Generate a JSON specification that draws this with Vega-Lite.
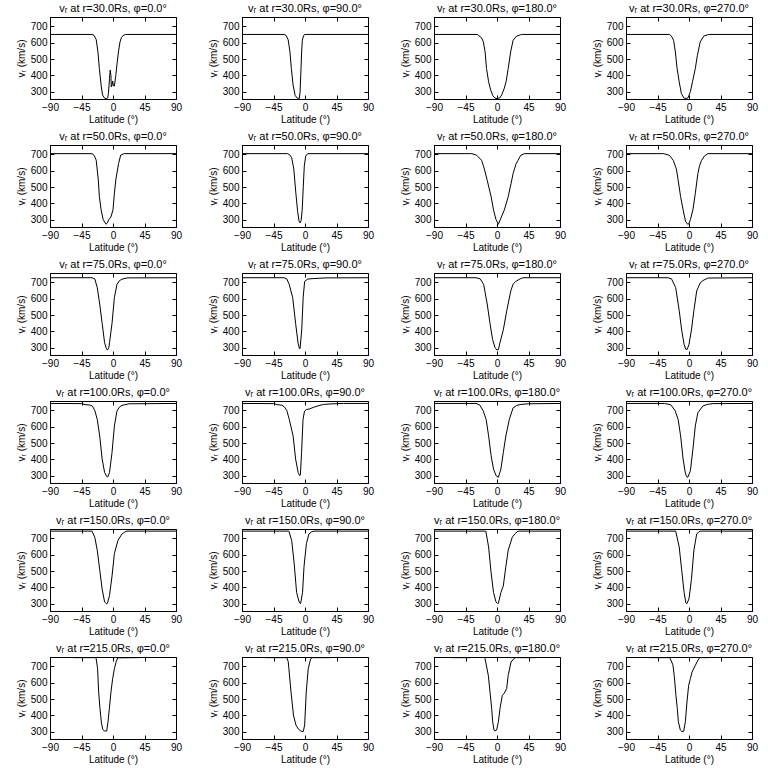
{
"$schema": "https://vega.github.io/schema/vega-lite/v6.json",
"padding": {"left": 15, "top": 2, "right": 2, "bottom": 2},
"data": {"values": [
{"k":"vᵣ at r=30.0Rs, φ=0.0°","x":-90,"v":651},{"k":"vᵣ at r=30.0Rs, φ=0.0°","x":-30,"v":651},{"k":"vᵣ at r=30.0Rs, φ=0.0°","x":-27,"v":645},{"k":"vᵣ at r=30.0Rs, φ=0.0°","x":-24,"v":620},{"k":"vᵣ at r=30.0Rs, φ=0.0°","x":-21.5,"v":544},{"k":"vᵣ at r=30.0Rs, φ=0.0°","x":-19.5,"v":442},{"k":"vᵣ at r=30.0Rs, φ=0.0°","x":-17,"v":340},{"k":"vᵣ at r=30.0Rs, φ=0.0°","x":-15,"v":280},{"k":"vᵣ at r=30.0Rs, φ=0.0°","x":-12,"v":260},{"k":"vᵣ at r=30.0Rs, φ=0.0°","x":-9,"v":258},{"k":"vᵣ at r=30.0Rs, φ=0.0°","x":-7.5,"v":262},{"k":"vᵣ at r=30.0Rs, φ=0.0°","x":-6.5,"v":290},{"k":"vᵣ at r=30.0Rs, φ=0.0°","x":-5,"v":380},{"k":"vᵣ at r=30.0Rs, φ=0.0°","x":-4,"v":432},{"k":"vᵣ at r=30.0Rs, φ=0.0°","x":-3,"v":400},{"k":"vᵣ at r=30.0Rs, φ=0.0°","x":-2.5,"v":330},{"k":"vᵣ at r=30.0Rs, φ=0.0°","x":-1.5,"v":340},{"k":"vᵣ at r=30.0Rs, φ=0.0°","x":-0.5,"v":365},{"k":"vᵣ at r=30.0Rs, φ=0.0°","x":0.5,"v":335},{"k":"vᵣ at r=30.0Rs, φ=0.0°","x":2,"v":335},{"k":"vᵣ at r=30.0Rs, φ=0.0°","x":4,"v":400},{"k":"vᵣ at r=30.0Rs, φ=0.0°","x":6,"v":480},{"k":"vᵣ at r=30.0Rs, φ=0.0°","x":8,"v":550},{"k":"vᵣ at r=30.0Rs, φ=0.0°","x":10,"v":605},{"k":"vᵣ at r=30.0Rs, φ=0.0°","x":12,"v":632},{"k":"vᵣ at r=30.0Rs, φ=0.0°","x":15,"v":647},{"k":"vᵣ at r=30.0Rs, φ=0.0°","x":18,"v":651},{"k":"vᵣ at r=30.0Rs, φ=0.0°","x":90,"v":651},
{"k":"vᵣ at r=30.0Rs, φ=90.0°","x":-90,"v":651},{"k":"vᵣ at r=30.0Rs, φ=90.0°","x":-30,"v":651},{"k":"vᵣ at r=30.0Rs, φ=90.0°","x":-27,"v":645},{"k":"vᵣ at r=30.0Rs, φ=90.0°","x":-24,"v":618},{"k":"vᵣ at r=30.0Rs, φ=90.0°","x":-21.5,"v":544},{"k":"vᵣ at r=30.0Rs, φ=90.0°","x":-19.5,"v":442},{"k":"vᵣ at r=30.0Rs, φ=90.0°","x":-17,"v":340},{"k":"vᵣ at r=30.0Rs, φ=90.0°","x":-14,"v":276},{"k":"vᵣ at r=30.0Rs, φ=90.0°","x":-11,"v":260},{"k":"vᵣ at r=30.0Rs, φ=90.0°","x":-8,"v":259},{"k":"vᵣ at r=30.0Rs, φ=90.0°","x":-7,"v":300},{"k":"vᵣ at r=30.0Rs, φ=90.0°","x":-5.7,"v":442},{"k":"vᵣ at r=30.0Rs, φ=90.0°","x":-4.8,"v":544},{"k":"vᵣ at r=30.0Rs, φ=90.0°","x":-3.8,"v":615},{"k":"vᵣ at r=30.0Rs, φ=90.0°","x":-2,"v":645},{"k":"vᵣ at r=30.0Rs, φ=90.0°","x":0,"v":651},{"k":"vᵣ at r=30.0Rs, φ=90.0°","x":90,"v":651},
{"k":"vᵣ at r=30.0Rs, φ=180.0°","x":-90,"v":651},{"k":"vᵣ at r=30.0Rs, φ=180.0°","x":-28,"v":651},{"k":"vᵣ at r=30.0Rs, φ=180.0°","x":-22,"v":630},{"k":"vᵣ at r=30.0Rs, φ=180.0°","x":-19.5,"v":605},{"k":"vᵣ at r=30.0Rs, φ=180.0°","x":-17,"v":544},{"k":"vᵣ at r=30.0Rs, φ=180.0°","x":-15,"v":442},{"k":"vᵣ at r=30.0Rs, φ=180.0°","x":-12,"v":361},{"k":"vᵣ at r=30.0Rs, φ=180.0°","x":-9,"v":310},{"k":"vᵣ at r=30.0Rs, φ=180.0°","x":-6,"v":276},{"k":"vᵣ at r=30.0Rs, φ=180.0°","x":-3,"v":260},{"k":"vᵣ at r=30.0Rs, φ=180.0°","x":0,"v":258},{"k":"vᵣ at r=30.0Rs, φ=180.0°","x":4,"v":262},{"k":"vᵣ at r=30.0Rs, φ=180.0°","x":6.7,"v":280},{"k":"vᵣ at r=30.0Rs, φ=180.0°","x":10,"v":316},{"k":"vᵣ at r=30.0Rs, φ=180.0°","x":13,"v":361},{"k":"vᵣ at r=30.0Rs, φ=180.0°","x":16,"v":442},{"k":"vᵣ at r=30.0Rs, φ=180.0°","x":19.5,"v":544},{"k":"vᵣ at r=30.0Rs, φ=180.0°","x":23,"v":615},{"k":"vᵣ at r=30.0Rs, φ=180.0°","x":28,"v":641},{"k":"vᵣ at r=30.0Rs, φ=180.0°","x":35,"v":651},{"k":"vᵣ at r=30.0Rs, φ=180.0°","x":90,"v":651},
{"k":"vᵣ at r=30.0Rs, φ=270.0°","x":-90,"v":651},{"k":"vᵣ at r=30.0Rs, φ=270.0°","x":-28,"v":651},{"k":"vᵣ at r=30.0Rs, φ=270.0°","x":-25,"v":640},{"k":"vᵣ at r=30.0Rs, φ=270.0°","x":-22,"v":615},{"k":"vᵣ at r=30.0Rs, φ=270.0°","x":-19.5,"v":544},{"k":"vᵣ at r=30.0Rs, φ=270.0°","x":-17,"v":442},{"k":"vᵣ at r=30.0Rs, φ=270.0°","x":-14,"v":361},{"k":"vᵣ at r=30.0Rs, φ=270.0°","x":-11,"v":290},{"k":"vᵣ at r=30.0Rs, φ=270.0°","x":-7.6,"v":262},{"k":"vᵣ at r=30.0Rs, φ=270.0°","x":-4,"v":258},{"k":"vᵣ at r=30.0Rs, φ=270.0°","x":-1.4,"v":262},{"k":"vᵣ at r=30.0Rs, φ=270.0°","x":2,"v":300},{"k":"vᵣ at r=30.0Rs, φ=270.0°","x":5,"v":361},{"k":"vᵣ at r=30.0Rs, φ=270.0°","x":9,"v":442},{"k":"vᵣ at r=30.0Rs, φ=270.0°","x":12,"v":523},{"k":"vᵣ at r=30.0Rs, φ=270.0°","x":16,"v":605},{"k":"vᵣ at r=30.0Rs, φ=270.0°","x":21,"v":641},{"k":"vᵣ at r=30.0Rs, φ=270.0°","x":28,"v":651},{"k":"vᵣ at r=30.0Rs, φ=270.0°","x":90,"v":651},
{"k":"vᵣ at r=50.0Rs, φ=0.0°","x":-90,"v":705},{"k":"vᵣ at r=50.0Rs, φ=0.0°","x":-30,"v":705},{"k":"vᵣ at r=50.0Rs, φ=0.0°","x":-27,"v":695},{"k":"vᵣ at r=50.0Rs, φ=0.0°","x":-24,"v":665},{"k":"vᵣ at r=50.0Rs, φ=0.0°","x":-21,"v":544},{"k":"vᵣ at r=50.0Rs, φ=0.0°","x":-19.5,"v":442},{"k":"vᵣ at r=50.0Rs, φ=0.0°","x":-17,"v":361},{"k":"vᵣ at r=50.0Rs, φ=0.0°","x":-14,"v":300},{"k":"vᵣ at r=50.0Rs, φ=0.0°","x":-10,"v":272},{"k":"vᵣ at r=50.0Rs, φ=0.0°","x":-8,"v":280},{"k":"vᵣ at r=50.0Rs, φ=0.0°","x":-6,"v":300},{"k":"vᵣ at r=50.0Rs, φ=0.0°","x":-3,"v":316},{"k":"vᵣ at r=50.0Rs, φ=0.0°","x":0,"v":361},{"k":"vᵣ at r=50.0Rs, φ=0.0°","x":2,"v":462},{"k":"vᵣ at r=50.0Rs, φ=0.0°","x":4,"v":544},{"k":"vᵣ at r=50.0Rs, φ=0.0°","x":8,"v":645},{"k":"vᵣ at r=50.0Rs, φ=0.0°","x":11,"v":696},{"k":"vᵣ at r=50.0Rs, φ=0.0°","x":16,"v":705},{"k":"vᵣ at r=50.0Rs, φ=0.0°","x":90,"v":705},
{"k":"vᵣ at r=50.0Rs, φ=90.0°","x":-90,"v":705},{"k":"vᵣ at r=50.0Rs, φ=90.0°","x":-25,"v":705},{"k":"vᵣ at r=50.0Rs, φ=90.0°","x":-22,"v":698},{"k":"vᵣ at r=50.0Rs, φ=90.0°","x":-19,"v":680},{"k":"vᵣ at r=50.0Rs, φ=90.0°","x":-16,"v":610},{"k":"vᵣ at r=50.0Rs, φ=90.0°","x":-13,"v":460},{"k":"vᵣ at r=50.0Rs, φ=90.0°","x":-10.5,"v":350},{"k":"vᵣ at r=50.0Rs, φ=90.0°","x":-8.5,"v":290},{"k":"vᵣ at r=50.0Rs, φ=90.0°","x":-7,"v":280},{"k":"vᵣ at r=50.0Rs, φ=90.0°","x":-5.5,"v":295},{"k":"vᵣ at r=50.0Rs, φ=90.0°","x":-4,"v":360},{"k":"vᵣ at r=50.0Rs, φ=90.0°","x":-2.5,"v":500},{"k":"vᵣ at r=50.0Rs, φ=90.0°","x":-1,"v":630},{"k":"vᵣ at r=50.0Rs, φ=90.0°","x":1,"v":690},{"k":"vᵣ at r=50.0Rs, φ=90.0°","x":4,"v":705},{"k":"vᵣ at r=50.0Rs, φ=90.0°","x":90,"v":705},
{"k":"vᵣ at r=50.0Rs, φ=180.0°","x":-90,"v":705},{"k":"vᵣ at r=50.0Rs, φ=180.0°","x":-36,"v":705},{"k":"vᵣ at r=50.0Rs, φ=180.0°","x":-29,"v":695},{"k":"vᵣ at r=50.0Rs, φ=180.0°","x":-22,"v":664},{"k":"vᵣ at r=50.0Rs, φ=180.0°","x":-18,"v":610},{"k":"vᵣ at r=50.0Rs, φ=180.0°","x":-14,"v":542},{"k":"vᵣ at r=50.0Rs, φ=180.0°","x":-8.4,"v":441},{"k":"vᵣ at r=50.0Rs, φ=180.0°","x":-5,"v":360},{"k":"vᵣ at r=50.0Rs, φ=180.0°","x":-1.4,"v":300},{"k":"vᵣ at r=50.0Rs, φ=180.0°","x":2,"v":272},{"k":"vᵣ at r=50.0Rs, φ=180.0°","x":5.6,"v":310},{"k":"vᵣ at r=50.0Rs, φ=180.0°","x":10.5,"v":360},{"k":"vᵣ at r=50.0Rs, φ=180.0°","x":16,"v":441},{"k":"vᵣ at r=50.0Rs, φ=180.0°","x":20,"v":520},{"k":"vᵣ at r=50.0Rs, φ=180.0°","x":23,"v":583},{"k":"vᵣ at r=50.0Rs, φ=180.0°","x":27,"v":640},{"k":"vᵣ at r=50.0Rs, φ=180.0°","x":30,"v":664},{"k":"vᵣ at r=50.0Rs, φ=180.0°","x":34,"v":695},{"k":"vᵣ at r=50.0Rs, φ=180.0°","x":39,"v":705},{"k":"vᵣ at r=50.0Rs, φ=180.0°","x":90,"v":705},
{"k":"vᵣ at r=50.0Rs, φ=270.0°","x":-90,"v":705},{"k":"vᵣ at r=50.0Rs, φ=270.0°","x":-36,"v":705},{"k":"vᵣ at r=50.0Rs, φ=270.0°","x":-28,"v":695},{"k":"vᵣ at r=50.0Rs, φ=270.0°","x":-22.5,"v":664},{"k":"vᵣ at r=50.0Rs, φ=270.0°","x":-18,"v":610},{"k":"vᵣ at r=50.0Rs, φ=270.0°","x":-15.5,"v":542},{"k":"vᵣ at r=50.0Rs, φ=270.0°","x":-12,"v":441},{"k":"vᵣ at r=50.0Rs, φ=270.0°","x":-8.4,"v":360},{"k":"vᵣ at r=50.0Rs, φ=270.0°","x":-5,"v":290},{"k":"vᵣ at r=50.0Rs, φ=270.0°","x":-2,"v":272},{"k":"vᵣ at r=50.0Rs, φ=270.0°","x":0,"v":275},{"k":"vᵣ at r=50.0Rs, φ=270.0°","x":2,"v":300},{"k":"vᵣ at r=50.0Rs, φ=270.0°","x":5.6,"v":360},{"k":"vᵣ at r=50.0Rs, φ=270.0°","x":9,"v":461},{"k":"vᵣ at r=50.0Rs, φ=270.0°","x":12.7,"v":583},{"k":"vᵣ at r=50.0Rs, φ=270.0°","x":15,"v":630},{"k":"vᵣ at r=50.0Rs, φ=270.0°","x":18,"v":664},{"k":"vᵣ at r=50.0Rs, φ=270.0°","x":22,"v":690},{"k":"vᵣ at r=50.0Rs, φ=270.0°","x":27,"v":705},{"k":"vᵣ at r=50.0Rs, φ=270.0°","x":90,"v":705},
{"k":"vᵣ at r=75.0Rs, φ=0.0°","x":-90,"v":729},{"k":"vᵣ at r=75.0Rs, φ=0.0°","x":-30,"v":729},{"k":"vᵣ at r=75.0Rs, φ=0.0°","x":-26,"v":722},{"k":"vᵣ at r=75.0Rs, φ=0.0°","x":-22.5,"v":668},{"k":"vᵣ at r=75.0Rs, φ=0.0°","x":-19,"v":568},{"k":"vᵣ at r=75.0Rs, φ=0.0°","x":-15.5,"v":449},{"k":"vᵣ at r=75.0Rs, φ=0.0°","x":-12,"v":330},{"k":"vᵣ at r=75.0Rs, φ=0.0°","x":-9.5,"v":295},{"k":"vᵣ at r=75.0Rs, φ=0.0°","x":-8,"v":285},{"k":"vᵣ at r=75.0Rs, φ=0.0°","x":-6,"v":300},{"k":"vᵣ at r=75.0Rs, φ=0.0°","x":-5,"v":330},{"k":"vᵣ at r=75.0Rs, φ=0.0°","x":-1.4,"v":449},{"k":"vᵣ at r=75.0Rs, φ=0.0°","x":2,"v":608},{"k":"vᵣ at r=75.0Rs, φ=0.0°","x":5.6,"v":687},{"k":"vᵣ at r=75.0Rs, φ=0.0°","x":9,"v":710},{"k":"vᵣ at r=75.0Rs, φ=0.0°","x":12.7,"v":720},{"k":"vᵣ at r=75.0Rs, φ=0.0°","x":20,"v":728},{"k":"vᵣ at r=75.0Rs, φ=0.0°","x":90,"v":729},
{"k":"vᵣ at r=75.0Rs, φ=90.0°","x":-90,"v":729},{"k":"vᵣ at r=75.0Rs, φ=90.0°","x":-30,"v":729},{"k":"vᵣ at r=75.0Rs, φ=90.0°","x":-26,"v":722},{"k":"vᵣ at r=75.0Rs, φ=90.0°","x":-22.5,"v":687},{"k":"vᵣ at r=75.0Rs, φ=90.0°","x":-17.6,"v":608},{"k":"vᵣ at r=75.0Rs, φ=90.0°","x":-13.4,"v":449},{"k":"vᵣ at r=75.0Rs, φ=90.0°","x":-10,"v":330},{"k":"vᵣ at r=75.0Rs, φ=90.0°","x":-8,"v":295},{"k":"vᵣ at r=75.0Rs, φ=90.0°","x":-7,"v":295},{"k":"vᵣ at r=75.0Rs, φ=90.0°","x":-4.7,"v":409},{"k":"vᵣ at r=75.0Rs, φ=90.0°","x":-2.6,"v":608},{"k":"vᵣ at r=75.0Rs, φ=90.0°","x":-0.5,"v":707},{"k":"vᵣ at r=75.0Rs, φ=90.0°","x":4,"v":721},{"k":"vᵣ at r=75.0Rs, φ=90.0°","x":12.7,"v":724},{"k":"vᵣ at r=75.0Rs, φ=90.0°","x":30,"v":728},{"k":"vᵣ at r=75.0Rs, φ=90.0°","x":90,"v":729},
{"k":"vᵣ at r=75.0Rs, φ=180.0°","x":-90,"v":729},{"k":"vᵣ at r=75.0Rs, φ=180.0°","x":-30,"v":729},{"k":"vᵣ at r=75.0Rs, φ=180.0°","x":-24,"v":722},{"k":"vᵣ at r=75.0Rs, φ=180.0°","x":-19,"v":687},{"k":"vᵣ at r=75.0Rs, φ=180.0°","x":-14,"v":568},{"k":"vᵣ at r=75.0Rs, φ=180.0°","x":-10,"v":449},{"k":"vᵣ at r=75.0Rs, φ=180.0°","x":-6.3,"v":350},{"k":"vᵣ at r=75.0Rs, φ=180.0°","x":-2.8,"v":300},{"k":"vᵣ at r=75.0Rs, φ=180.0°","x":0,"v":285},{"k":"vᵣ at r=75.0Rs, φ=180.0°","x":2,"v":288},{"k":"vᵣ at r=75.0Rs, φ=180.0°","x":4.2,"v":330},{"k":"vᵣ at r=75.0Rs, φ=180.0°","x":9,"v":409},{"k":"vᵣ at r=75.0Rs, φ=180.0°","x":14,"v":528},{"k":"vᵣ at r=75.0Rs, φ=180.0°","x":19.7,"v":648},{"k":"vᵣ at r=75.0Rs, φ=180.0°","x":23,"v":690},{"k":"vᵣ at r=75.0Rs, φ=180.0°","x":27,"v":707},{"k":"vᵣ at r=75.0Rs, φ=180.0°","x":33,"v":722},{"k":"vᵣ at r=75.0Rs, φ=180.0°","x":37,"v":729},{"k":"vᵣ at r=75.0Rs, φ=180.0°","x":90,"v":729},
{"k":"vᵣ at r=75.0Rs, φ=270.0°","x":-90,"v":729},{"k":"vᵣ at r=75.0Rs, φ=270.0°","x":-30,"v":729},{"k":"vᵣ at r=75.0Rs, φ=270.0°","x":-25,"v":722},{"k":"vᵣ at r=75.0Rs, φ=270.0°","x":-19,"v":668},{"k":"vᵣ at r=75.0Rs, φ=270.0°","x":-14,"v":528},{"k":"vᵣ at r=75.0Rs, φ=270.0°","x":-10.5,"v":409},{"k":"vᵣ at r=75.0Rs, φ=270.0°","x":-7,"v":320},{"k":"vᵣ at r=75.0Rs, φ=270.0°","x":-4.5,"v":290},{"k":"vᵣ at r=75.0Rs, φ=270.0°","x":-2.5,"v":290},{"k":"vᵣ at r=75.0Rs, φ=270.0°","x":0,"v":320},{"k":"vᵣ at r=75.0Rs, φ=270.0°","x":3.5,"v":409},{"k":"vᵣ at r=75.0Rs, φ=270.0°","x":7,"v":528},{"k":"vᵣ at r=75.0Rs, φ=270.0°","x":11,"v":648},{"k":"vᵣ at r=75.0Rs, φ=270.0°","x":16,"v":697},{"k":"vᵣ at r=75.0Rs, φ=270.0°","x":20,"v":712},{"k":"vᵣ at r=75.0Rs, φ=270.0°","x":27,"v":727},{"k":"vᵣ at r=75.0Rs, φ=270.0°","x":90,"v":729},
{"k":"vᵣ at r=100.0Rs, φ=0.0°","x":-90,"v":743},{"k":"vᵣ at r=100.0Rs, φ=0.0°","x":-45,"v":742},{"k":"vᵣ at r=100.0Rs, φ=0.0°","x":-40,"v":736},{"k":"vᵣ at r=100.0Rs, φ=0.0°","x":-33,"v":733},{"k":"vᵣ at r=100.0Rs, φ=0.0°","x":-29.5,"v":727},{"k":"vᵣ at r=100.0Rs, φ=0.0°","x":-26,"v":700},{"k":"vᵣ at r=100.0Rs, φ=0.0°","x":-22.5,"v":645},{"k":"vᵣ at r=100.0Rs, φ=0.0°","x":-19,"v":544},{"k":"vᵣ at r=100.0Rs, φ=0.0°","x":-15.5,"v":402},{"k":"vᵣ at r=100.0Rs, φ=0.0°","x":-12,"v":320},{"k":"vᵣ at r=100.0Rs, φ=0.0°","x":-9,"v":295},{"k":"vᵣ at r=100.0Rs, φ=0.0°","x":-7.5,"v":292},{"k":"vᵣ at r=100.0Rs, φ=0.0°","x":-5,"v":320},{"k":"vᵣ at r=100.0Rs, φ=0.0°","x":-1.4,"v":442},{"k":"vᵣ at r=100.0Rs, φ=0.0°","x":2,"v":605},{"k":"vᵣ at r=100.0Rs, φ=0.0°","x":5.6,"v":696},{"k":"vᵣ at r=100.0Rs, φ=0.0°","x":9,"v":720},{"k":"vᵣ at r=100.0Rs, φ=0.0°","x":12.7,"v":731},{"k":"vᵣ at r=100.0Rs, φ=0.0°","x":23,"v":741},{"k":"vᵣ at r=100.0Rs, φ=0.0°","x":90,"v":743},
{"k":"vᵣ at r=100.0Rs, φ=90.0°","x":-90,"v":743},{"k":"vᵣ at r=100.0Rs, φ=90.0°","x":-45,"v":742},{"k":"vᵣ at r=100.0Rs, φ=90.0°","x":-40,"v":736},{"k":"vᵣ at r=100.0Rs, φ=90.0°","x":-33,"v":732},{"k":"vᵣ at r=100.0Rs, φ=90.0°","x":-29.5,"v":722},{"k":"vᵣ at r=100.0Rs, φ=90.0°","x":-26,"v":700},{"k":"vᵣ at r=100.0Rs, φ=90.0°","x":-22.5,"v":645},{"k":"vᵣ at r=100.0Rs, φ=90.0°","x":-17,"v":544},{"k":"vᵣ at r=100.0Rs, φ=90.0°","x":-13.4,"v":402},{"k":"vᵣ at r=100.0Rs, φ=90.0°","x":-9.8,"v":320},{"k":"vᵣ at r=100.0Rs, φ=90.0°","x":-7.5,"v":300},{"k":"vᵣ at r=100.0Rs, φ=90.0°","x":-6.5,"v":310},{"k":"vᵣ at r=100.0Rs, φ=90.0°","x":-4.9,"v":442},{"k":"vᵣ at r=100.0Rs, φ=90.0°","x":-2.8,"v":645},{"k":"vᵣ at r=100.0Rs, φ=90.0°","x":-0.7,"v":696},{"k":"vᵣ at r=100.0Rs, φ=90.0°","x":2,"v":706},{"k":"vᵣ at r=100.0Rs, φ=90.0°","x":5.6,"v":708},{"k":"vᵣ at r=100.0Rs, φ=90.0°","x":12.7,"v":720},{"k":"vᵣ at r=100.0Rs, φ=90.0°","x":20,"v":730},{"k":"vᵣ at r=100.0Rs, φ=90.0°","x":26.7,"v":737},{"k":"vᵣ at r=100.0Rs, φ=90.0°","x":40,"v":741},{"k":"vᵣ at r=100.0Rs, φ=90.0°","x":55,"v":743},{"k":"vᵣ at r=100.0Rs, φ=90.0°","x":90,"v":743},
{"k":"vᵣ at r=100.0Rs, φ=180.0°","x":-90,"v":743},{"k":"vᵣ at r=100.0Rs, φ=180.0°","x":-30,"v":743},{"k":"vᵣ at r=100.0Rs, φ=180.0°","x":-25,"v":735},{"k":"vᵣ at r=100.0Rs, φ=180.0°","x":-20,"v":700},{"k":"vᵣ at r=100.0Rs, φ=180.0°","x":-15.5,"v":645},{"k":"vᵣ at r=100.0Rs, φ=180.0°","x":-12,"v":544},{"k":"vᵣ at r=100.0Rs, φ=180.0°","x":-8.4,"v":422},{"k":"vᵣ at r=100.0Rs, φ=180.0°","x":-5,"v":341},{"k":"vᵣ at r=100.0Rs, φ=180.0°","x":-1.4,"v":300},{"k":"vᵣ at r=100.0Rs, φ=180.0°","x":2,"v":290},{"k":"vᵣ at r=100.0Rs, φ=180.0°","x":5.6,"v":341},{"k":"vᵣ at r=100.0Rs, φ=180.0°","x":9,"v":442},{"k":"vᵣ at r=100.0Rs, φ=180.0°","x":12.7,"v":544},{"k":"vᵣ at r=100.0Rs, φ=180.0°","x":17.6,"v":645},{"k":"vᵣ at r=100.0Rs, φ=180.0°","x":23,"v":716},{"k":"vᵣ at r=100.0Rs, φ=180.0°","x":28,"v":731},{"k":"vᵣ at r=100.0Rs, φ=180.0°","x":34,"v":737},{"k":"vᵣ at r=100.0Rs, φ=180.0°","x":45,"v":741},{"k":"vᵣ at r=100.0Rs, φ=180.0°","x":90,"v":743},
{"k":"vᵣ at r=100.0Rs, φ=270.0°","x":-90,"v":743},{"k":"vᵣ at r=100.0Rs, φ=270.0°","x":-35,"v":743},{"k":"vᵣ at r=100.0Rs, φ=270.0°","x":-26,"v":735},{"k":"vᵣ at r=100.0Rs, φ=270.0°","x":-20,"v":700},{"k":"vᵣ at r=100.0Rs, φ=270.0°","x":-15.5,"v":645},{"k":"vᵣ at r=100.0Rs, φ=270.0°","x":-12,"v":544},{"k":"vᵣ at r=100.0Rs, φ=270.0°","x":-8.4,"v":402},{"k":"vᵣ at r=100.0Rs, φ=270.0°","x":-5,"v":310},{"k":"vᵣ at r=100.0Rs, φ=270.0°","x":-2.5,"v":290},{"k":"vᵣ at r=100.0Rs, φ=270.0°","x":-1.4,"v":292},{"k":"vᵣ at r=100.0Rs, φ=270.0°","x":2,"v":330},{"k":"vᵣ at r=100.0Rs, φ=270.0°","x":5.6,"v":462},{"k":"vᵣ at r=100.0Rs, φ=270.0°","x":9,"v":605},{"k":"vᵣ at r=100.0Rs, φ=270.0°","x":12.7,"v":686},{"k":"vᵣ at r=100.0Rs, φ=270.0°","x":19.7,"v":727},{"k":"vᵣ at r=100.0Rs, φ=270.0°","x":26,"v":737},{"k":"vᵣ at r=100.0Rs, φ=270.0°","x":34,"v":742},{"k":"vᵣ at r=100.0Rs, φ=270.0°","x":90,"v":743},
{"k":"vᵣ at r=150.0Rs, φ=0.0°","x":-90,"v":745},{"k":"vᵣ at r=150.0Rs, φ=0.0°","x":-30,"v":745},{"k":"vᵣ at r=150.0Rs, φ=0.0°","x":-26,"v":707},{"k":"vᵣ at r=150.0Rs, φ=0.0°","x":-22.5,"v":628},{"k":"vᵣ at r=150.0Rs, φ=0.0°","x":-19,"v":509},{"k":"vᵣ at r=150.0Rs, φ=0.0°","x":-15.5,"v":389},{"k":"vᵣ at r=150.0Rs, φ=0.0°","x":-12,"v":310},{"k":"vᵣ at r=150.0Rs, φ=0.0°","x":-9.5,"v":300},{"k":"vᵣ at r=150.0Rs, φ=0.0°","x":-8,"v":302},{"k":"vᵣ at r=150.0Rs, φ=0.0°","x":-5,"v":350},{"k":"vᵣ at r=150.0Rs, φ=0.0°","x":-1.4,"v":469},{"k":"vᵣ at r=150.0Rs, φ=0.0°","x":2,"v":608},{"k":"vᵣ at r=150.0Rs, φ=0.0°","x":7,"v":687},{"k":"vᵣ at r=150.0Rs, φ=0.0°","x":12.7,"v":727},{"k":"vᵣ at r=150.0Rs, φ=0.0°","x":17,"v":740},{"k":"vᵣ at r=150.0Rs, φ=0.0°","x":20,"v":745},{"k":"vᵣ at r=150.0Rs, φ=0.0°","x":90,"v":745},
{"k":"vᵣ at r=150.0Rs, φ=90.0°","x":-90,"v":745},{"k":"vᵣ at r=150.0Rs, φ=90.0°","x":-23,"v":745},{"k":"vᵣ at r=150.0Rs, φ=90.0°","x":-19,"v":687},{"k":"vᵣ at r=150.0Rs, φ=90.0°","x":-15.5,"v":548},{"k":"vᵣ at r=150.0Rs, φ=90.0°","x":-12,"v":369},{"k":"vᵣ at r=150.0Rs, φ=90.0°","x":-8.4,"v":310},{"k":"vᵣ at r=150.0Rs, φ=90.0°","x":-6.3,"v":300},{"k":"vᵣ at r=150.0Rs, φ=90.0°","x":-3.5,"v":369},{"k":"vᵣ at r=150.0Rs, φ=90.0°","x":-1.4,"v":528},{"k":"vᵣ at r=150.0Rs, φ=90.0°","x":2,"v":668},{"k":"vᵣ at r=150.0Rs, φ=90.0°","x":5.6,"v":727},{"k":"vᵣ at r=150.0Rs, φ=90.0°","x":9,"v":740},{"k":"vᵣ at r=150.0Rs, φ=90.0°","x":12.7,"v":745},{"k":"vᵣ at r=150.0Rs, φ=90.0°","x":90,"v":745},
{"k":"vᵣ at r=150.0Rs, φ=180.0°","x":-90,"v":745},{"k":"vᵣ at r=150.0Rs, φ=180.0°","x":-16,"v":745},{"k":"vᵣ at r=150.0Rs, φ=180.0°","x":-12,"v":648},{"k":"vᵣ at r=150.0Rs, φ=180.0°","x":-8.4,"v":489},{"k":"vᵣ at r=150.0Rs, φ=180.0°","x":-5,"v":369},{"k":"vᵣ at r=150.0Rs, φ=180.0°","x":-1.4,"v":310},{"k":"vᵣ at r=150.0Rs, φ=180.0°","x":1,"v":300},{"k":"vᵣ at r=150.0Rs, φ=180.0°","x":2,"v":302},{"k":"vᵣ at r=150.0Rs, φ=180.0°","x":5.6,"v":369},{"k":"vᵣ at r=150.0Rs, φ=180.0°","x":9,"v":409},{"k":"vᵣ at r=150.0Rs, φ=180.0°","x":12.7,"v":528},{"k":"vᵣ at r=150.0Rs, φ=180.0°","x":16,"v":628},{"k":"vᵣ at r=150.0Rs, φ=180.0°","x":21.8,"v":707},{"k":"vᵣ at r=150.0Rs, φ=180.0°","x":26,"v":730},{"k":"vᵣ at r=150.0Rs, φ=180.0°","x":30,"v":745},{"k":"vᵣ at r=150.0Rs, φ=180.0°","x":90,"v":745},
{"k":"vᵣ at r=150.0Rs, φ=270.0°","x":-90,"v":745},{"k":"vᵣ at r=150.0Rs, φ=270.0°","x":-19,"v":745},{"k":"vᵣ at r=150.0Rs, φ=270.0°","x":-14,"v":648},{"k":"vᵣ at r=150.0Rs, φ=270.0°","x":-10.5,"v":509},{"k":"vᵣ at r=150.0Rs, φ=270.0°","x":-7,"v":369},{"k":"vᵣ at r=150.0Rs, φ=270.0°","x":-4.5,"v":305},{"k":"vᵣ at r=150.0Rs, φ=270.0°","x":-3,"v":300},{"k":"vᵣ at r=150.0Rs, φ=270.0°","x":0,"v":330},{"k":"vᵣ at r=150.0Rs, φ=270.0°","x":3.5,"v":449},{"k":"vᵣ at r=150.0Rs, φ=270.0°","x":7,"v":628},{"k":"vᵣ at r=150.0Rs, φ=270.0°","x":11,"v":727},{"k":"vᵣ at r=150.0Rs, φ=270.0°","x":14,"v":740},{"k":"vᵣ at r=150.0Rs, φ=270.0°","x":16,"v":745},{"k":"vᵣ at r=150.0Rs, φ=270.0°","x":90,"v":745},
{"k":"vᵣ at r=215.0Rs, φ=0.0°","x":-90,"v":765},{"k":"vᵣ at r=215.0Rs, φ=0.0°","x":-57,"v":765},{"k":"vᵣ at r=215.0Rs, φ=0.0°","x":-56.7,"v":754},{"k":"vᵣ at r=215.0Rs, φ=0.0°","x":-25,"v":754},{"k":"vᵣ at r=215.0Rs, φ=0.0°","x":-24,"v":747},{"k":"vᵣ at r=215.0Rs, φ=0.0°","x":-22,"v":686},{"k":"vᵣ at r=215.0Rs, φ=0.0°","x":-20.5,"v":544},{"k":"vᵣ at r=215.0Rs, φ=0.0°","x":-18.6,"v":442},{"k":"vᵣ at r=215.0Rs, φ=0.0°","x":-16.7,"v":361},{"k":"vᵣ at r=215.0Rs, φ=0.0°","x":-14.8,"v":316},{"k":"vᵣ at r=215.0Rs, φ=0.0°","x":-12.4,"v":304},{"k":"vᵣ at r=215.0Rs, φ=0.0°","x":-9,"v":304},{"k":"vᵣ at r=215.0Rs, φ=0.0°","x":-7.1,"v":361},{"k":"vᵣ at r=215.0Rs, φ=0.0°","x":-5.2,"v":442},{"k":"vᵣ at r=215.0Rs, φ=0.0°","x":-2.9,"v":544},{"k":"vᵣ at r=215.0Rs, φ=0.0°","x":-0.5,"v":625},{"k":"vᵣ at r=215.0Rs, φ=0.0°","x":2,"v":686},{"k":"vᵣ at r=215.0Rs, φ=0.0°","x":4.3,"v":726},{"k":"vᵣ at r=215.0Rs, φ=0.0°","x":6.7,"v":753},{"k":"vᵣ at r=215.0Rs, φ=0.0°","x":37.6,"v":754},{"k":"vᵣ at r=215.0Rs, φ=0.0°","x":38,"v":765},{"k":"vᵣ at r=215.0Rs, φ=0.0°","x":90,"v":765},
{"k":"vᵣ at r=215.0Rs, φ=90.0°","x":-90,"v":765},{"k":"vᵣ at r=215.0Rs, φ=90.0°","x":-57,"v":765},{"k":"vᵣ at r=215.0Rs, φ=90.0°","x":-56.5,"v":754},{"k":"vᵣ at r=215.0Rs, φ=90.0°","x":-26,"v":754},{"k":"vᵣ at r=215.0Rs, φ=90.0°","x":-24,"v":730},{"k":"vᵣ at r=215.0Rs, φ=90.0°","x":-23,"v":686},{"k":"vᵣ at r=215.0Rs, φ=90.0°","x":-20,"v":544},{"k":"vᵣ at r=215.0Rs, φ=90.0°","x":-16.5,"v":402},{"k":"vᵣ at r=215.0Rs, φ=90.0°","x":-13,"v":341},{"k":"vᵣ at r=215.0Rs, φ=90.0°","x":-9.5,"v":316},{"k":"vᵣ at r=215.0Rs, φ=90.0°","x":-6,"v":304},{"k":"vᵣ at r=215.0Rs, φ=90.0°","x":-2.5,"v":300},{"k":"vᵣ at r=215.0Rs, φ=90.0°","x":-0.5,"v":341},{"k":"vᵣ at r=215.0Rs, φ=90.0°","x":1.8,"v":544},{"k":"vᵣ at r=215.0Rs, φ=90.0°","x":4.6,"v":686},{"k":"vᵣ at r=215.0Rs, φ=90.0°","x":8,"v":745},{"k":"vᵣ at r=215.0Rs, φ=90.0°","x":10,"v":754},{"k":"vᵣ at r=215.0Rs, φ=90.0°","x":37,"v":754},{"k":"vᵣ at r=215.0Rs, φ=90.0°","x":37.5,"v":765},{"k":"vᵣ at r=215.0Rs, φ=90.0°","x":90,"v":765},
{"k":"vᵣ at r=215.0Rs, φ=180.0°","x":-90,"v":765},{"k":"vᵣ at r=215.0Rs, φ=180.0°","x":-65.5,"v":765},{"k":"vᵣ at r=215.0Rs, φ=180.0°","x":-65,"v":754},{"k":"vᵣ at r=215.0Rs, φ=180.0°","x":-38,"v":754},{"k":"vᵣ at r=215.0Rs, φ=180.0°","x":-37.5,"v":765},{"k":"vᵣ at r=215.0Rs, φ=180.0°","x":-19,"v":765},{"k":"vᵣ at r=215.0Rs, φ=180.0°","x":-17,"v":747},{"k":"vᵣ at r=215.0Rs, φ=180.0°","x":-12.4,"v":645},{"k":"vᵣ at r=215.0Rs, φ=180.0°","x":-10,"v":544},{"k":"vᵣ at r=215.0Rs, φ=180.0°","x":-7.6,"v":442},{"k":"vᵣ at r=215.0Rs, φ=180.0°","x":-6.2,"v":361},{"k":"vᵣ at r=215.0Rs, φ=180.0°","x":-4.3,"v":310},{"k":"vᵣ at r=215.0Rs, φ=180.0°","x":-2.9,"v":304},{"k":"vᵣ at r=215.0Rs, φ=180.0°","x":-0.5,"v":310},{"k":"vᵣ at r=215.0Rs, φ=180.0°","x":2,"v":361},{"k":"vᵣ at r=215.0Rs, φ=180.0°","x":4.3,"v":442},{"k":"vᵣ at r=215.0Rs, φ=180.0°","x":7.6,"v":523},{"k":"vᵣ at r=215.0Rs, φ=180.0°","x":10,"v":533},{"k":"vᵣ at r=215.0Rs, φ=180.0°","x":13.8,"v":564},{"k":"vᵣ at r=215.0Rs, φ=180.0°","x":16,"v":645},{"k":"vᵣ at r=215.0Rs, φ=180.0°","x":20,"v":727},{"k":"vᵣ at r=215.0Rs, φ=180.0°","x":25.7,"v":754},{"k":"vᵣ at r=215.0Rs, φ=180.0°","x":55.7,"v":754},{"k":"vᵣ at r=215.0Rs, φ=180.0°","x":56,"v":765},{"k":"vᵣ at r=215.0Rs, φ=180.0°","x":90,"v":765},
{"k":"vᵣ at r=215.0Rs, φ=270.0°","x":-90,"v":765},{"k":"vᵣ at r=215.0Rs, φ=270.0°","x":-57,"v":765},{"k":"vᵣ at r=215.0Rs, φ=270.0°","x":-56.7,"v":754},{"k":"vᵣ at r=215.0Rs, φ=270.0°","x":-28,"v":754},{"k":"vᵣ at r=215.0Rs, φ=270.0°","x":-26.7,"v":747},{"k":"vᵣ at r=215.0Rs, φ=270.0°","x":-23,"v":710},{"k":"vᵣ at r=215.0Rs, φ=270.0°","x":-21,"v":640},{"k":"vᵣ at r=215.0Rs, φ=270.0°","x":-18.6,"v":520},{"k":"vᵣ at r=215.0Rs, φ=270.0°","x":-16.7,"v":442},{"k":"vᵣ at r=215.0Rs, φ=270.0°","x":-15.2,"v":361},{"k":"vᵣ at r=215.0Rs, φ=270.0°","x":-12.4,"v":310},{"k":"vᵣ at r=215.0Rs, φ=270.0°","x":-10,"v":300},{"k":"vᵣ at r=215.0Rs, φ=270.0°","x":-7.6,"v":302},{"k":"vᵣ at r=215.0Rs, φ=270.0°","x":-5.2,"v":361},{"k":"vᵣ at r=215.0Rs, φ=270.0°","x":-2.9,"v":483},{"k":"vᵣ at r=215.0Rs, φ=270.0°","x":-0.5,"v":584},{"k":"vᵣ at r=215.0Rs, φ=270.0°","x":2,"v":625},{"k":"vᵣ at r=215.0Rs, φ=270.0°","x":4.3,"v":665},{"k":"vᵣ at r=215.0Rs, φ=270.0°","x":9,"v":706},{"k":"vᵣ at r=215.0Rs, φ=270.0°","x":13.8,"v":747},{"k":"vᵣ at r=215.0Rs, φ=270.0°","x":16,"v":754},{"k":"vᵣ at r=215.0Rs, φ=270.0°","x":28,"v":754},{"k":"vᵣ at r=215.0Rs, φ=270.0°","x":28.5,"v":765},{"k":"vᵣ at r=215.0Rs, φ=270.0°","x":90,"v":765}
]},
"facet": {
  "field": "k", "type": "nominal",
  "sort": ["vᵣ at r=30.0Rs, φ=0.0°","vᵣ at r=30.0Rs, φ=90.0°","vᵣ at r=30.0Rs, φ=180.0°","vᵣ at r=30.0Rs, φ=270.0°","vᵣ at r=50.0Rs, φ=0.0°","vᵣ at r=50.0Rs, φ=90.0°","vᵣ at r=50.0Rs, φ=180.0°","vᵣ at r=50.0Rs, φ=270.0°","vᵣ at r=75.0Rs, φ=0.0°","vᵣ at r=75.0Rs, φ=90.0°","vᵣ at r=75.0Rs, φ=180.0°","vᵣ at r=75.0Rs, φ=270.0°","vᵣ at r=100.0Rs, φ=0.0°","vᵣ at r=100.0Rs, φ=90.0°","vᵣ at r=100.0Rs, φ=180.0°","vᵣ at r=100.0Rs, φ=270.0°","vᵣ at r=150.0Rs, φ=0.0°","vᵣ at r=150.0Rs, φ=90.0°","vᵣ at r=150.0Rs, φ=180.0°","vᵣ at r=150.0Rs, φ=270.0°","vᵣ at r=215.0Rs, φ=0.0°","vᵣ at r=215.0Rs, φ=90.0°","vᵣ at r=215.0Rs, φ=180.0°","vᵣ at r=215.0Rs, φ=270.0°"],
  "header": {"title": null, "labelFont": "Liberation Sans", "labelFontSize": 11, "labelColor": "black", "labelPadding": 3}
},
"columns": 4,
"spacing": {"row": 46, "column": 66},
"bounds": "flush",
"resolve": {"axis": {"x": "independent", "y": "independent"}},
"spec": {
  "width": 126, "height": 82,
  "layer": [
    {
      "mark": {"type": "line", "color": "black", "strokeWidth": 1, "clip": true},
      "encoding": {
        "x": {"field": "x", "type": "quantitative", "scale": {"domain": [-90, 90], "nice": false, "zero": false},
          "axis": {"orient": "bottom", "values": [-90, -45, 0, 45, 90], "title": "Latitude (°)", "labelFlush": false, "titlePadding": 2}},
        "y": {"field": "v", "type": "quantitative", "scale": {"domain": [255, 758], "nice": false, "zero": false},
          "axis": {"orient": "left", "values": [300, 400, 500, 600, 700], "title": "vᵣ (km/s)", "titlePadding": 4}}
      }
    },
    {
      "mark": {"type": "line", "color": "black", "strokeWidth": 1, "clip": true, "opacity": 0},
      "encoding": {
        "x": {"field": "x", "type": "quantitative",
          "axis": {"orient": "top", "values": [-90, -45, 0, 45, 90], "title": null, "labels": false, "domain": false}},
        "y": {"field": "v", "type": "quantitative",
          "axis": {"orient": "right", "values": [300, 400, 500, 600, 700], "title": null, "labels": false, "domain": false}}
      }
    }
  ]
},
"config": {
  "font": "Liberation Sans",
  "view": {"stroke": "black", "strokeWidth": 1},
  "axis": {"grid": false, "domainColor": "black", "tickColor": "black", "labelColor": "black", "titleColor": "black", "labelFontSize": 10, "titleFontSize": 10, "titleFontWeight": "normal", "tickSize": -4, "labelPadding": 7}
}
}
